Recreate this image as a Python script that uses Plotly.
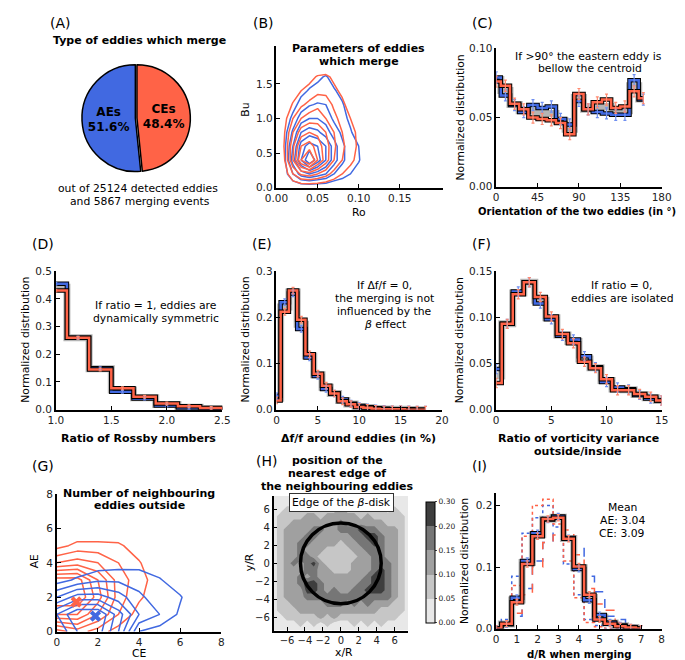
import plotly.graph_objects as go

W, H = 685, 660
BLUE = "#4169E1"
RED = "#FF6347"
BLUE_L = "#6f8ff0"
RED_L = "#ff8a70"
FONT = "DejaVu Sans"

# ---------------- data ----------------
pie_labels = ["CEs", "AEs"]
pie_values = [48.4, 51.6]

# (B) density grids, rows = Bu, cols = Ro
b_ro = [0.0, 0.01, 0.02, 0.03, 0.04, 0.05, 0.06, 0.07, 0.08, 0.09, 0.10, 0.11, 0.12]
b_bu = [0.0, 0.2, 0.4, 0.6, 0.8, 1.0, 1.2, 1.4, 1.6, 1.8]
b_ae = [
    [0, 0, 0, 0, 0, 0, 0, 0, 0, 0, 0, 0, 0],
    [0, 0.5, 2, 3.5, 4, 3.5, 3, 2, 1.5, 1, 0.5, 0, 0],
    [0, 0.8, 3.5, 6, 8, 6.5, 5, 3.5, 2.2, 1.5, 1.1, 0.3, 0],
    [0, 0.8, 3, 5.5, 6.5, 6, 5, 3.5, 2.2, 1.5, 1, 0.2, 0],
    [0, 0.6, 2.2, 4, 4.5, 4.2, 3.5, 2.5, 1.8, 1.1, 0.5, 0, 0],
    [0, 0.3, 1.3, 2.5, 3, 3, 2.6, 1.8, 1.3, 0.8, 0.2, 0, 0],
    [0, 0, 0.6, 1.4, 1.9, 2.1, 2, 1.4, 1.1, 0.5, 0, 0, 0],
    [0, 0, 0.2, 0.7, 1.1, 1.3, 1.5, 1.1, 0.7, 0.2, 0, 0, 0],
    [0, 0, 0, 0.2, 0.5, 0.8, 1.1, 0.6, 0.2, 0, 0, 0, 0],
    [0, 0, 0, 0, 0, 0, 0, 0, 0, 0, 0, 0, 0],
]
b_ce = [
    [0, 0, 0, 0, 0, 0, 0, 0, 0, 0, 0, 0, 0],
    [0, 0.4, 2, 3.2, 3.5, 3, 2.4, 1.6, 1, 0.5, 0.2, 0, 0],
    [0, 1, 4, 7, 8.5, 6, 4.5, 3, 2, 1.3, 0.6, 0, 0],
    [0, 1.1, 3.8, 6, 6.5, 5.5, 4.5, 3.2, 2.2, 1.5, 0.8, 0, 0],
    [0, 1, 3, 4.5, 5, 4.8, 4, 3, 2, 1.3, 0.8, 0, 0],
    [0, 0.7, 2, 3, 3.5, 3.5, 3, 2.3, 1.6, 1, 0.4, 0, 0],
    [0, 0.3, 1.1, 1.8, 2.3, 2.8, 2.6, 1.8, 1.2, 0.6, 0, 0, 0],
    [0, 0, 0.5, 1, 1.3, 1.7, 1.7, 1.2, 0.8, 0.2, 0, 0, 0],
    [0, 0, 0, 0.3, 0.7, 1.1, 1.2, 0.8, 0.3, 0, 0, 0, 0],
    [0, 0, 0, 0, 0, 0, 0, 0, 0, 0, 0, 0, 0],
]

# (C) orientation
c_x = [0, 10, 20, 30, 40, 50, 60, 70, 80, 90, 100, 110, 120, 130, 140, 150, 160]
c_ae = [0.079, 0.066, 0.059, 0.054, 0.059, 0.057, 0.058, 0.049, 0.045, 0.062, 0.056, 0.054, 0.053, 0.052, 0.052, 0.077, 0.063]
c_ce = [0.076, 0.073, 0.060, 0.056, 0.050, 0.049, 0.048, 0.046, 0.038, 0.067, 0.056, 0.061, 0.063, 0.057, 0.058, 0.069, 0.064]
c_err = 0.004

# (D) ratio of Rossby numbers
d_x = [1.0, 1.2, 1.4, 1.6, 1.8, 2.0, 2.2, 2.4, 2.6]
d_ae = [0.455, 0.26, 0.15, 0.065, 0.04, 0.015, 0.006, 0.002, 0.001]
d_ce = [0.43, 0.26, 0.145, 0.077, 0.047, 0.022, 0.012, 0.006, 0.004]
d_err = 0.005

# (E) delta f / f
e_x = [0, 1, 2, 3, 4, 5, 6, 7, 8, 9, 10, 11, 12, 13, 14, 15, 16, 17, 18]
e_ae = [0.03, 0.233, 0.252, 0.175, 0.113, 0.073, 0.045, 0.035, 0.022, 0.013, 0.008, 0.005, 0.003, 0.002, 0.001, 0.001, 0.001, 0.0, 0.0]
e_ce = [0.02, 0.212, 0.258, 0.195, 0.12, 0.078, 0.052, 0.035, 0.018, 0.012, 0.006, 0.004, 0.002, 0.001, 0.001, 0.001, 0.0, 0.0, 0.0]
e_err = 0.007

# (F) vorticity variance ratio
f_x = [0, 1, 2, 3, 4, 5, 6, 7, 8, 9, 10, 11, 12, 13, 14, 15]
f_ae = [0.044, 0.093, 0.128, 0.138, 0.115, 0.098, 0.080, 0.076, 0.058, 0.046, 0.030, 0.024, 0.022, 0.016, 0.012, 0.010]
f_ce = [0.029, 0.093, 0.125, 0.138, 0.122, 0.101, 0.082, 0.072, 0.052, 0.045, 0.033, 0.021, 0.021, 0.017, 0.014, 0.010]
f_err = 0.005

# (G) neighbouring eddies, rows = AE, cols = CE
g_ce_axis = [0, 1, 2, 3, 4, 5, 6, 7]
g_ae_axis = [0, 1, 2, 3, 4, 5, 6]
g_red = [
    [1.5, 2.5, 1.5, 0.5, 0, 0, 0, 0],
    [6, 6, 4, 2, 0.5, 0, 0, 0],
    [8, 8, 5.5, 2.5, 1.2, 0.2, 0, 0],
    [7.5, 7.5, 5, 2.5, 1.5, 0.3, 0, 0],
    [3, 3.5, 3, 2, 1.1, 0, 0, 0],
    [0.6, 1.3, 1.3, 1.2, 0.4, 0, 0, 0],
    [0, 0, 0, 0, 0, 0, 0, 0],
]
g_blue = [
    [5, 7, 7.5, 5, 1, 0.5, 0.2, 0],
    [6, 8, 8, 5.5, 3, 2, 0.8, 0],
    [3, 4.5, 4.5, 3.5, 2.2, 1.5, 1.1, 0],
    [0.5, 1.2, 1.8, 1.8, 1.6, 1.1, 0.3, 0],
    [0, 0, 0.3, 0.5, 0.6, 0.3, 0, 0],
    [0, 0, 0, 0, 0, 0, 0, 0],
    [0, 0, 0, 0, 0, 0, 0, 0],
]
g_mean_red = (0.95, 1.72)
g_mean_blue = (1.88, 0.9)

# (H) level index (0: 0-0.05, 1: 0.05-0.10, 2: 0.10-0.15, 3: 0.15-0.20, 4: 0.20-0.30)
h_axis = [-7.5, -6.75, -6.0, -5.25, -4.5, -3.75, -3.0, -2.25, -1.5, -0.75, 0.0,
          0.75, 1.5, 2.25, 3.0, 3.75, 4.5, 5.25, 6.0, 6.75, 7.5]
h_rows = [  # top row = y 7.5
    "000000000000000000000",
    "000001000100010000000",
    "001111111121111110100",
    "011112212222212111110",
    "011222222232222221110",
    "012222332233343322210",
    "012223322222334432210",
    "012233222212233432210",
    "012232221111223332210",
    "012233211111122332210",
    "012323421111222333210",
    "012223322111222343210",
    "012232322222223443210",
    "012234432222233443210",
    "012224432322334443210",
    "012223333333333333210",
    "011222223332323222110",
    "011122222222222211110",
    "001111121211111111100",
    "000010101000101010000",
    "000000000000000000000",
]
h_levels = ["0.00", "0.05", "0.10", "0.15", "0.20", "0.30"]
beta_radius = 4.5

# (I) d/R when merging
i_x = [0, 0.5, 1.0, 1.5, 2.0, 2.5, 3.0, 3.5, 4.0, 4.5, 5.0, 5.5, 6.0, 6.5, 7.0]
i_ae = [0, 0.007, 0.050, 0.110, 0.155, 0.177, 0.182, 0.147, 0.097, 0.046, 0.022, 0.010, 0.005, 0.002, 0.0]
i_ce = [0, 0.008, 0.043, 0.105, 0.150, 0.178, 0.180, 0.146, 0.101, 0.055, 0.015, 0.008, 0.004, 0.002, 0.0]
i_ae_dot = [0, 0.015, 0.085, 0.155, 0.18, 0.2, 0.165, 0.105, 0.055, 0.015, 0.005, 0.0, 0.0, 0.0, 0.0]
i_ce_dot = [0, 0.005, 0.07, 0.15, 0.20, 0.21, 0.17, 0.11, 0.05, 0.01, 0.003, 0.0, 0.0, 0.0, 0.0]
i_ae_dash = [0, 0.005, 0.02, 0.065, 0.11, 0.14, 0.155, 0.15, 0.13, 0.085, 0.06, 0.02, 0.015, 0.005, 0.0]
i_ce_dash = [0, 0.003, 0.025, 0.055, 0.10, 0.14, 0.152, 0.16, 0.12, 0.065, 0.04, 0.03, 0.01, 0.005, 0.0]
i_err = 0.005

TICK = 10.5
LAB = 10.8
BOLD = 11


# ---------------- helpers ----------------
def xd(a, b):
    return [a / W, b / W]


def yd(top, bottom):
    return [1 - bottom / H, 1 - top / H]


fig = go.Figure()

axis_style = dict(showline=True, linecolor="black", linewidth=1.5, ticks="inside",
                  ticklen=4, tickwidth=1, tickcolor="black", showgrid=False,
                  zeroline=False, tickangle=0,
                  tickfont=dict(size=TICK, color="#222", family=FONT))


def add_axes(n, xdom, ydom, xr, yr, xticks, yticks, xfmt=None, yfmt=None):
    xa = dict(axis_style, domain=xdom, range=xr, tickvals=xticks, anchor="y%d" % n)
    ya = dict(axis_style, domain=ydom, range=yr, tickvals=yticks, anchor="x%d" % n)
    if xfmt:
        xa["tickformat"] = xfmt
    if yfmt:
        ya["tickformat"] = yfmt
    fig.update_layout(**{"xaxis%d" % n: xa, "yaxis%d" % n: ya})


def hist(n, x, ae, ce, err):
    xr, yr = "x%d" % n, "y%d" % n
    mean = [(a + c) / 2 for a, c in zip(ae, ce)]
    fig.add_trace(go.Scatter(x=x, y=mean, mode="lines", line_shape="hvh",
                             line=dict(color="rgba(120,120,120,0.55)", width=7),
                             xaxis=xr, yaxis=yr, showlegend=False, hoverinfo="skip"))
    for vals, col in ((ae, BLUE), (ce, RED)):
        fig.add_trace(go.Scatter(x=x, y=vals, mode="lines", line_shape="hvh",
                                 line=dict(color="black", width=4.5),
                                 xaxis=xr, yaxis=yr, showlegend=False, hoverinfo="skip"))
        fig.add_trace(go.Scatter(x=x, y=vals, mode="lines", line_shape="hvh",
                                 line=dict(color=col, width=2.5),
                                 xaxis=xr, yaxis=yr, showlegend=False))
    for vals, col in ((ae, BLUE_L), (ce, RED_L)):
        fig.add_trace(go.Scatter(x=x, y=vals, mode="markers", marker=dict(size=1, color=col),
                                 error_y=dict(type="constant", value=err, color=col,
                                              thickness=1.2, width=1.5),
                                 xaxis=xr, yaxis=yr, showlegend=False))


# ---------------- (A) pie ----------------
fig.add_trace(go.Pie(labels=pie_labels, values=pie_values, sort=False,
                     direction="clockwise", rotation=0,
                     marker=dict(colors=[RED, BLUE], line=dict(color="black", width=1.5)),
                     pull=[0.015, 0.015],
                     texttemplate="<b>%{label}<br>%{percent:.1%}</b>",
                     textposition="inside", insidetextorientation="horizontal",
                     textfont=dict(color="black", size=12, family=FONT),
                     domain=dict(x=xd(64, 176), y=yd(50, 162)), showlegend=False))

# ---------------- (B) ----------------
add_axes(1, xd(265, 437), yd(33, 177), [0, 0.2025], [0, 2.04],
         [0, 0.05, 0.10, 0.15], [0, 0.5, 1.0, 1.5], ".2f", ".1f")
for grid, col in ((b_ae, BLUE), (b_ce, RED)):
    fig.add_trace(go.Contour(x=b_ro, y=b_bu, z=grid, xaxis="x1", yaxis="y1",
                             contours=dict(coloring="lines", start=1, end=7, size=1),
                             colorscale=[[0, col], [1, col]], line=dict(width=1.5, smoothing=0),
                             showscale=False, hoverinfo="skip"))

# ---------------- (C) ----------------
add_axes(2, xd(492, 663), yd(35, 176), [0, 180], [0, 0.10],
         [0, 45, 90, 135, 180], [0, 0.05, 0.10], None, ".2f")
hist(2, c_x, c_ae, c_ce, c_err)

# ---------------- (D) ----------------
add_axes(3, xd(37, 209), yd(262, 403), [1.0, 2.5], [0, 0.5],
         [1.0, 1.5, 2.0, 2.5], [0, 0.1, 0.2, 0.3, 0.4, 0.5], ".1f", ".1f")
hist(3, d_x, d_ae, d_ce, d_err)

# ---------------- (E) ----------------
add_axes(4, xd(265, 436), yd(262, 403), [0, 20], [0, 0.3],
         [0, 5, 10, 15, 20], [0, 0.1, 0.2, 0.3], None, ".1f")
hist(4, e_x, e_ae, e_ce, e_err)

# ---------------- (F) ----------------
add_axes(5, xd(492, 663), yd(262, 403), [0, 15], [0, 0.15],
         [0, 5, 10, 15], [0, 0.05, 0.10, 0.15], None, ".2f")
hist(5, f_x, f_ae, f_ce, f_err)

# ---------------- (G) ----------------
add_axes(6, xd(38, 208), yd(489, 629), [0, 8], [0, 8],
         [0, 2, 4, 6, 8], [0, 2, 4, 6, 8])
for grid, col in ((g_red, RED), (g_blue, BLUE)):
    fig.add_trace(go.Contour(x=g_ce_axis, y=g_ae_axis, z=grid, xaxis="x6", yaxis="y6",
                             contours=dict(coloring="lines", start=1, end=7, size=1),
                             colorscale=[[0, col], [1, col]], line=dict(width=1.5, smoothing=0),
                             showscale=False, hoverinfo="skip"))
for pt, col in ((g_mean_red, RED), (g_mean_blue, BLUE)):
    fig.add_trace(go.Scatter(x=[pt[0]], y=[pt[1]], mode="markers", xaxis="x6", yaxis="y6",
                             marker=dict(symbol="x", size=10, color=col, line=dict(width=0)),
                             showlegend=False))

# ---------------- (H) ----------------
add_axes(7, xd(262, 401), yd(491, 628), [-7.5, 7.5], [-7.5, 7.5],
         [-6, -4, -2, 0, 2, 4, 6], [-6, -4, -2, 0, 2, 4, 6])
fig.update_layout(xaxis7=dict(tickfont=dict(size=10)), yaxis7=dict(tickfont=dict(size=10)))
h_z = [[int(ch) + 0.5 for ch in row] for row in reversed(h_rows)]
greys = ["#e8e8e8", "#c6c6c6", "#a0a0a0", "#767676", "#3e3e3e"]
cs = []
for k, g in enumerate(greys):
    cs.append([k / 5, g])
    cs.append([(k + 1) / 5, g])
fig.add_trace(go.Contour(x=h_axis, y=h_axis, z=h_z, xaxis="x7", yaxis="y7",
                         zmin=0, zmax=5, colorscale=cs,
                         contours=dict(coloring="fill", start=1, end=4, size=1),
                         line=dict(width=0, smoothing=0),
                         colorbar=dict(x=409 / W, xanchor="left", y=1 - 558.5 / H, yanchor="middle",
                                       len=141, lenmode="pixels", thickness=9,
                                       thicknessmode="pixels", outlinecolor="black",
                                       outlinewidth=1, tickvals=[0, 1, 2, 3, 4, 5],
                                       ticktext=h_levels, ticks="outside", ticklen=2,
                                       tickfont=dict(size=7.5, family=FONT, color="#222")),
                         hoverinfo="skip"))
fig.add_shape(type="circle", xref="x7", yref="y7", x0=-beta_radius, x1=beta_radius,
              y0=-beta_radius, y1=beta_radius, line=dict(color="black", width=3.5))

# ---------------- (I) ----------------
add_axes(8, xd(492, 663), yd(488, 626), [0, 8], [0, 0.22],
         [0, 1, 2, 3, 4, 5, 6, 7, 8], [0, 0.1, 0.2], None, ".1f")
for vals, col, dash in ((i_ae_dot, BLUE, "dot"), (i_ce_dot, RED, "dot"),
                        (i_ae_dash, BLUE, "dash"), (i_ce_dash, RED, "dash")):
    fig.add_trace(go.Scatter(x=i_x, y=vals, mode="lines", line_shape="hvh",
                             line=dict(color=col, width=1.5, dash=dash),
                             xaxis="x8", yaxis="y8", showlegend=False))
hist(8, i_x, i_ae, i_ce, i_err)

# ---------------- text ----------------
ann = []


def txt(x, y, s, size=LAB, bold=False, angle=0, xanchor="center"):
    if bold:
        s = "<b>" + s + "</b>"
        size = BOLD if size == LAB else size
    ann.append(dict(x=x / W, y=1 - y / H, xref="paper", yref="paper", text=s,
                    showarrow=False, textangle=angle, xanchor=xanchor, yanchor="middle",
                    font=dict(size=size, family=FONT, color="black")))


# panel labels
for lab, x, y in (("(A)", 42, 9), ("(B)", 252, 9), ("(C)", 478, 9),
                  ("(D)", 24, 234), ("(E)", 250, 234), ("(F)", 477, 234),
                  ("(G)", 24, 460), ("(H)", 255, 455), ("(I)", 475, 460)):
    txt(x, y, lab, size=14)

txt(123, 27, "Type of eddies which merge", bold=True)
txt(122, 178, "out of 25124 detected eddies")
txt(124, 191, "and 5867 merging events")

txt(350, 35, "Parameters of eddies", bold=True)
txt(350, 48, "which merge", bold=True)
txt(350, 202, "Ro")
txt(233, 98, "Bu", angle=-90)

txt(587, 43, "If >90° the eastern eddy is")
txt(589, 55, "bellow the centroid")
txt(575, 201, "Orientation of the two eddies (in °)", size=10, bold=True)
txt(455, 105, "Normalized distribution", angle=-90)

txt(141, 297, "If ratio = 1, eddies are")
txt(141, 310, "dynamically symmetric")
txt(122, 432, "Ratio of Rossby numbers", bold=True)
txt(6, 332, "Normalized distribution", angle=-90)

txt(377, 277, "If Δf/f = 0,")
txt(377, 290, "the merging is not")
txt(377, 303, "influenced by the")
txt(377, 316, "<i>β</i> effect")
txt(350, 432, "Δf/f around eddies (in %)", bold=True)
txt(233, 332, "Normalized distribution", angle=-90)

txt(622, 277, "If ratio = 0,")
txt(622, 290, "eddies are isolated")
txt(577, 432, "Ratio of vorticity variance", bold=True)
txt(577, 446, "outside/inside", bold=True)
txt(455, 332, "Normalized distribution", angle=-90)

txt(123, 488, "Number of neighbouring", bold=True)
txt(123, 501, "eddies outside", bold=True)
txt(123, 651, "CE")
txt(15, 558, "AE", angle=-90)

txt(328, 455, "position of the", bold=True)
txt(328, 468, "nearest edge of", bold=True)
txt(328, 481, "the neighbouring eddies", bold=True)
txt(335, 650, "x/R")
txt(237, 558, "y/R", angle=-90)
ann.append(dict(x=332 / W, y=1 - 507 / H, xref="paper", yref="paper",
                text="Edge of the <i>β</i>-disk", showarrow=False, bgcolor="white",
                bordercolor="#333", borderwidth=1, borderpad=2,
                font=dict(size=LAB, family=FONT, color="black")))

txt(622, 503, "Mean")
txt(622, 516, "AE: 3.04")
txt(622, 529, "CE: 3.09")
txt(578, 652, "d/R when merging", size=10.2, bold=True)
txt(460, 557, "Normalized distribution", angle=-90)

fig.update_layout(width=W, height=H, margin=dict(l=0, r=0, t=0, b=0),
                  paper_bgcolor="white", plot_bgcolor="rgba(0,0,0,0)",
                  font=dict(family=FONT, size=LAB, color="black"),
                  annotations=ann, showlegend=False)

fig.write_html("out.html")
